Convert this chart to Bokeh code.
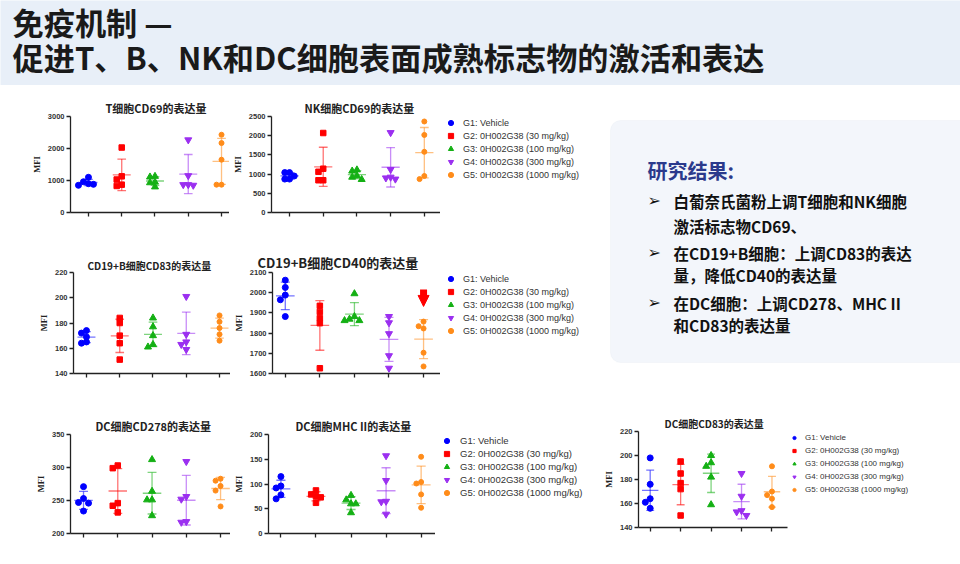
import numpy as np
from bokeh.plotting import figure
from bokeh.layouts import row, column
from bokeh.models import Range1d, FixedTicker, Legend, LegendItem, BoxAnnotation, Arrow, NormalHead
from bokeh.core.properties import value
from bokeh.embed import file_html
from bokeh.resources import INLINE

CJK = "Noto Sans CJK SC"
SANS = "Liberation Sans"
SERIF = "Liberation Serif"

# ---------------- data ----------------
HEADER_LINES = ["免疫机制 —", "促进T、B、NK和DC细胞表面成熟标志物的激活和表达"]

GROUP_LABELS = ["G1: Vehicle", "G2: 0H002G38 (30 mg/kg)", "G3: 0H002G38 (100 mg/kg)",
                "G4: 0H002G38 (300 mg/kg)", "G5: 0H002G38 (1000 mg/kg)"]
GROUP_X = [1, 2, 3, 4, 5]
GROUP_COLORS = ["#0000ff", "#ff0000", "#14b014", "#9b2ff0", "#ff8c1a"]
GROUP_MARKERS = ["circle", "square", "triangle", "inverted_triangle", "circle"]
GROUP_SIZES = [6, 5.5, 7, 7, 5]

T_CD69_TITLE = "T细胞CD69的表达量"
T_CD69_TICKS = [0, 1000, 2000, 3000]
T_CD69 = [[1100, 960, 900, 850, 880],
          [2030, 1130, 1030, 830, 870],
          [1130, 1110, 950, 800, 930],
          [2270, 1150, 870, 870, 850],
          [2430, 2170, 1650, 870, 870]]

NK_CD69_TITLE = "NK细胞CD69的表达量"
NK_CD69_TICKS = [0, 500, 1000, 1500, 2000, 2500]
NK_CD69 = [[1040, 1040, 950, 870, 870],
           [2070, 1140, 1060, 840, 840],
           [1110, 1080, 960, 920, 860],
           [2080, 1120, 870, 920, 900],
           [2370, 2020, 1580, 870, 950]]

B_CD83_TITLE = "CD19+B细胞CD83的表达量"
B_CD83_TICKS = [140, 160, 180, 200, 220]
B_CD83 = [[172, 174, 169, 164, 165],
          [184, 180, 170, 164, 151],
          [184, 177, 170, 161, 163],
          [201, 171, 163, 165, 159],
          [186, 181, 176, 171, 166]]

B_CD40_TITLE = "CD19+B细胞CD40的表达量"
B_CD40_TICKS = [1600, 1700, 1800, 1900, 2000, 2100]
B_CD40 = [[2062, 2026, 1988, 1965, 1882],
          [1935, 1905, 1874, 1849, 1626],
          [1995, 1882, 1869, 1862, 1862],
          [1882, 1851, 1797, 1688, 1626],
          [1857, 1834, 1823, 1703, 1635]]
B_CD40_ARROW_GROUP = 5
B_CD40_ARROW_FROM = 2016
B_CD40_ARROW_TO = 1932

DC_CD278_TITLE = "DC细胞CD278的表达量"
DC_CD278_TICKS = [200, 250, 300, 350]
DC_CD278 = [[271, 247, 253, 246, 234],
            [299, 303, 242, 246, 232],
            [312, 264, 251, 251, 227],
            [309, 252, 256, 217, 218],
            [283, 280, 272, 265, 241]]

DC_MHC_TITLE = "DC细胞MHC II的表达量"
DC_MHC_TICKS = [0, 50, 100, 150, 200]
DC_MHC = [[115, 96, 92, 78, 70],
          [87, 79, 75, 62, 73],
          [77, 68, 60, 60, 42],
          [157, 107, 64, 65, 39],
          [155, 101, 104, 79, 52]]

DC_CD83_TITLE = "DC细胞CD83的表达量"
DC_CD83_TICKS = [140, 160, 180, 200, 220]
DC_CD83 = [[198, 176, 161, 164, 156],
           [195, 185, 177, 172, 150],
           [200, 191, 194, 182, 159],
           [185, 166, 153, 154, 150],
           [191, 170, 167, 164, 157]]

Y_LABEL = "MFI"

RESULT_TITLE = "研究结果:"
RESULT_LINES = ["白葡奈氏菌粉上调T细胞和NK细胞",
                "激活标志物CD69、",
                "在CD19+B细胞：上调CD83的表达",
                "量，降低CD40的表达量",
                "在DC细胞：上调CD278、MHC II",
                "和CD83的表达量"]
RESULT_BULLET_ROWS = [0, 2, 4]
BULLET = "➢"


# ---------------- helpers ----------------
def swarm(vals, ppx, ppy, step_px=5.0, min_sep=5.0):
    order = sorted(range(len(vals)), key=lambda k: -vals[k])
    placed = []
    offs = [0.0] * len(vals)
    for k in order:
        yk = vals[k] * ppy
        xo = 0.0
        for c in [0, -1, 1, -2, 2, -3, 3]:
            xo = c * step_px
            if all((xo - px) ** 2 + (yk - py) ** 2 >= min_sep ** 2 for px, py in placed):
                break
        placed.append((xo, yk))
        offs[k] = xo / ppx
    return offs


def make_chart(title, groups, yr, yticks, xr, width, height, borders,
               title_offset, title_size, title_standoff=1):
    mbl, mbr, mbt, mbb = borders
    p = figure(width=width, height=height, x_range=Range1d(*xr), y_range=Range1d(*yr),
               output_backend="svg", toolbar_location=None,
               min_border_left=mbl, min_border_right=mbr,
               min_border_top=mbt, min_border_bottom=mbb)
    p.title.text = title
    p.title.align = "left"
    p.title.offset = title_offset
    p.title.text_font = CJK
    p.title.text_font_size = f"{title_size}px"
    p.title.text_font_style = "bold"
    p.title.text_color = "#222222"
    p.title.standoff = title_standoff
    p.background_fill_color = "white"
    p.border_fill_color = "white"
    p.outline_line_color = None
    p.xgrid.visible = False
    p.ygrid.visible = False
    for ax in (p.xaxis[0], p.yaxis[0]):
        ax.axis_line_color = "#222222"
        ax.axis_line_width = 1.3
        ax.major_tick_line_color = "#222222"
        ax.major_tick_line_width = 1.3
        ax.major_tick_out = 4
        ax.major_tick_in = 0
        ax.minor_tick_line_color = None
        ax.major_label_text_font = SANS
        ax.major_label_text_font_style = "bold"
        ax.major_label_text_font_size = "7.5px"
        ax.major_label_text_color = "#333333"
        ax.major_label_standoff = 2
    p.yaxis.ticker = FixedTicker(ticks=yticks)
    p.xaxis.ticker = FixedTicker(ticks=GROUP_X)
    p.xaxis.major_label_overrides = {x: "" for x in GROUP_X}
    p.yaxis.axis_label = Y_LABEL
    p.yaxis.axis_label_text_font = SERIF
    p.yaxis.axis_label_text_font_style = "bold"
    p.yaxis.axis_label_text_font_size = "8.5px"
    p.yaxis.axis_label_text_color = "#222222"
    p.yaxis.axis_label_standoff = 3

    frame_w = width - mbl - mbr
    frame_h = height - mbt - mbb
    ppx = frame_w / (xr[1] - xr[0])
    ppy = frame_h / (yr[1] - yr[0])
    cap = 0.13
    half = 0.27
    for i, vals in enumerate(groups):
        xc = GROUP_X[i]
        m = float(np.mean(vals))
        s = float(np.std(vals, ddof=1))
        col = GROUP_COLORS[i]
        p.segment(x0=[xc, xc - cap, xc - cap, xc - half],
                  y0=[m - s, m + s, m - s, m],
                  x1=[xc, xc + cap, xc + cap, xc + half],
                  y1=[m + s, m + s, m - s, m],
                  line_color=col, line_alpha=0.55, line_width=1.3)
        offs = swarm(vals, ppx, ppy)
        p.scatter(x=[xc + o for o in offs], y=vals, marker=GROUP_MARKERS[i],
                  size=GROUP_SIZES[i], fill_color=col, line_color=col)
    return p


def legend_fig(width, height, left, top, glyph_w, glyph_h, standoff, font_size):
    # the legend sits at the top-left corner of the frame; the borders place it
    p = figure(width=width, height=height, x_range=Range1d(0, 1), y_range=Range1d(0, 1),
               x_axis_type=None, y_axis_type=None, output_backend="svg",
               toolbar_location=None, min_border_left=left, min_border_top=top,
               min_border_right=0, min_border_bottom=0)
    p.outline_line_color = None
    p.border_fill_color = "white"
    p.background_fill_color = "white"
    items = []
    for lab, col, mk in zip(GROUP_LABELS, GROUP_COLORS, GROUP_MARKERS):
        # one point outside the visible range so that the legend glyph gets its colours
        r = p.scatter(x=[-10], y=[-10], marker=mk, fill_color=col, line_color=col)
        items.append(LegendItem(label=lab, renderers=[r]))
    lg = Legend(items=items, location="top_left", padding=0, margin=0, spacing=0,
                glyph_width=glyph_w, glyph_height=glyph_h, label_height=glyph_h,
                label_standoff=standoff, label_text_font=SANS,
                label_text_font_size=f"{font_size}px", label_text_color="#333333",
                border_line_color=None, background_fill_alpha=0)
    p.add_layout(lg)
    return p


# ---------------- header ----------------
hd = figure(width=960, height=85, x_range=Range1d(0, 960), y_range=Range1d(85, 0),
            x_axis_type=None, y_axis_type=None, output_backend="svg",
            toolbar_location=None, min_border=0)
hd.background_fill_color = "#e8eff8"
hd.border_fill_color = "#e8eff8"
hd.outline_line_color = None
hd.text(x=[12, 12], y=[21, 56], text=HEADER_LINES, text_font=value(CJK),
        text_font_size="31.2px", text_font_style="bold", text_color="#1a1a1a",
        text_baseline="middle", text_align="left")

# ---------------- charts ----------------
pA = make_chart(T_CD69_TITLE, T_CD69, (0, 3000), T_CD69_TICKS, (0.46, 5.24),
                229, 155, (70, 0, 28, 27), 35, 11)
pB = make_chart(NK_CD69_TITLE, NK_CD69, (0, 2500), NK_CD69_TICKS, (0.465, 5.48),
                211, 155, (33, 0, 27, 28), 33, 11)
lg1 = legend_fig(160, 155, 4, 31, 13, 13, 6, 9)

pC = make_chart(B_CD83_TITLE, B_CD83, (140, 220), B_CD83_TICKS, (0.61, 5.33),
                230, 155, (73, 0, 32, 19), 14, 10, 0)
pD = make_chart(B_CD40_TITLE, B_CD40, (1600, 2100), B_CD40_TICKS, (0.63, 5.49),
                210, 155, (40, 0, 25, 22), -15, 13, 2)
pD.add_layout(Arrow(end=None, x_start=B_CD40_ARROW_GROUP, y_start=B_CD40_ARROW_FROM,
                    x_end=B_CD40_ARROW_GROUP, y_end=B_CD40_ARROW_TO + 42,
                    line_color="#ff0000", line_width=7))
pD.add_layout(Arrow(end=NormalHead(size=11, fill_color="#ff0000", line_color="#ff0000"),
                    x_start=B_CD40_ARROW_GROUP, y_start=B_CD40_ARROW_TO + 50,
                    x_end=B_CD40_ARROW_GROUP, y_end=B_CD40_ARROW_TO,
                    line_color="#ff0000", line_width=1))
lg2 = legend_fig(160, 155, 4, 30, 13, 13, 6, 9)

pE = make_chart(DC_CD278_TITLE, DC_CD278, (200, 350), DC_CD278_TICKS, (0.62, 5.29),
                230, 169, (70, 0, 36, 27), 25, 11)
pF = make_chart(DC_MHC_TITLE, DC_MHC, (0, 200), DC_MHC_TICKS, (0.646, 5.41),
                205, 169, (30, 0, 36, 31), 27, 11)
lg3 = legend_fig(165, 169, 5, 39, 13, 13, 7, 9.5)

pG = make_chart(DC_CD83_TITLE, DC_CD83, (140, 220), DC_CD83_TICKS, (0.616, 5.51),
                190, 169, (34, 3, 33, 37), 26, 10, 2)
lg4 = legend_fig(170, 169, 0, 36, 8, 13, 7, 8)

# ---------------- text box ----------------
tb = figure(width=360, height=310, x_range=Range1d(600, 960), y_range=Range1d(395, 85),
            x_axis_type=None, y_axis_type=None, output_backend="svg",
            toolbar_location=None, min_border=0)
tb.outline_line_color = None
tb.border_fill_color = "white"
tb.background_fill_color = "white"
tb.add_layout(BoxAnnotation(left=610, right=975, top=120, bottom=362, level="underlay",
                            fill_color="#f3f6fb", fill_alpha=1, line_color="#e6ebf3",
                            border_radius=10))
tb.text(x=[647], y=[170], text=[RESULT_TITLE], text_font=value(CJK), text_font_size="20px",
        text_font_style="bold", text_color="#2b3a8c", text_baseline="middle", text_align="left")
line_y = [200, 225, 252, 274, 302, 324]
tb.text(x=[673] * len(RESULT_LINES), y=line_y, text=RESULT_LINES, text_font=value(CJK),
        text_font_size="15.5px", text_font_style="bold", text_color="#111111",
        text_baseline="middle", text_align="left")
tb.text(x=[647] * len(RESULT_BULLET_ROWS), y=[line_y[k] for k in RESULT_BULLET_ROWS],
        text=[BULLET] * len(RESULT_BULLET_ROWS), text_font=value("DejaVu Sans"),
        text_font_size="16px", text_font_style="bold", text_color="#111111",
        text_baseline="middle", text_align="left")

# ---------------- layout ----------------
left_col = column(row(pA, pB, lg1), row(pC, pD, lg2), row(pE, pF, lg3))
right_col = column(tb, row(pG, lg4))
layout = column(hd, row(left_col, right_col))

open("out.html", "w").write(file_html(layout, INLINE))
